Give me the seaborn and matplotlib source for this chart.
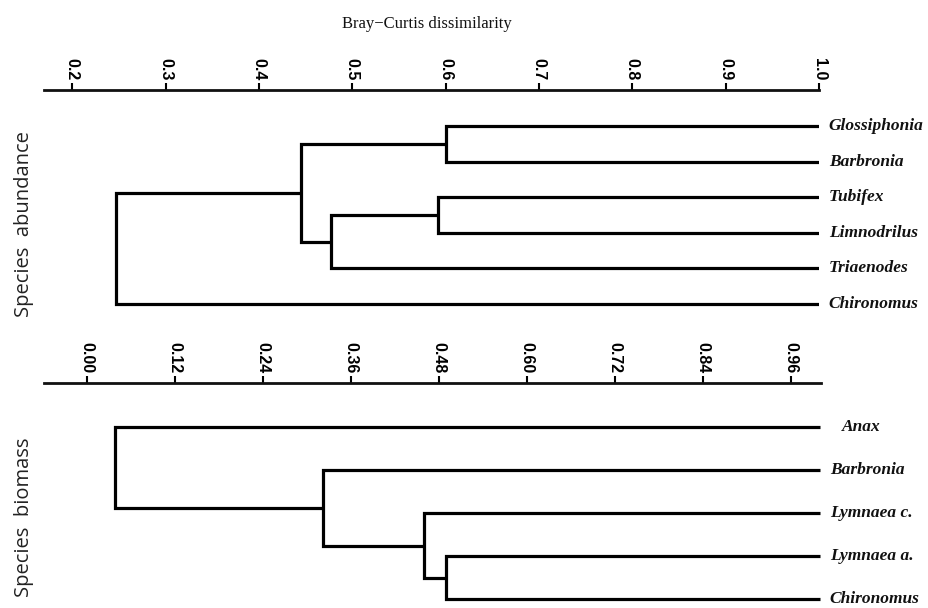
import numpy as np
import pandas as pd
import matplotlib
matplotlib.use("Agg")
import matplotlib.pyplot as plt
import seaborn as sns

# ---------------- data ----------------
title_text = "Bray\u2212Curtis dissimilarity"

abund_label = "Species  abundance"
abund_leaves = ["Glossiphonia", "Barbronia", "Tubifex", "Limnodrilus", "Triaenodes", "Chironomus"]
# merges: node ids 0..5 are leaves, merge k creates node 6+k
abund_left = [0, 2, 7, 6, 9]
abund_right = [1, 3, 4, 8, 5]
abund_height = [0.600, 0.592, 0.477, 0.445, 0.247]
abund_ticks = [0.2, 0.3, 0.4, 0.5, 0.6, 0.7, 0.8, 0.9, 1.0]
abund_ticklabels = ["0.2", "0.3", "0.4", "0.5", "0.6", "0.7", "0.8", "0.9", "1.0"]

bio_label = "Species  biomass"
bio_leaves = ["Anax", "Barbronia", "Lymnaea c.", "Lymnaea a.", "Chironomus"]
bio_left = [3, 2, 1, 0]
bio_right = [4, 5, 6, 7]
bio_height = [0.490, 0.460, 0.322, 0.039]
bio_ticks = [0.00, 0.12, 0.24, 0.36, 0.48, 0.60, 0.72, 0.84, 0.96]
bio_ticklabels = ["0.00", "0.12", "0.24", "0.36", "0.48", "0.60", "0.72", "0.84", "0.96"]

leaf_value = 1.0


def dendro_segments(leaves, left, right, height):
    n = len(leaves)
    xs = {i: leaf_value for i in range(n)}
    ys = {i: float(i) for i in range(n)}
    rows = []
    for k, (a, b, h) in enumerate(zip(left, right, height)):
        node = n + k
        pts = [(xs[a], ys[a]), (h, ys[a]), (h, ys[b]), (xs[b], ys[b])]
        for j, (px, py) in enumerate(pts):
            rows.append({"seg": k, "order": j, "x": px, "y": py})
        xs[node] = h
        ys[node] = (ys[a] + ys[b]) / 2.0
    return pd.DataFrame(rows)


sns.set_theme(style="white")
plt.rcParams["font.family"] = ["DejaVu Sans"]

fig = plt.figure(figsize=(9.29, 6.08), dpi=100)
W, H = 929, 608


def px_axes(left, top, right, bottom):
    return fig.add_axes([left / W, 1 - bottom / H, (right - left) / W, (bottom - top) / H])


ax1 = px_axes(44, 90, 819, 320)
ax2 = px_axes(44, 383, 820.7, 606)

panels = [
    (ax1, abund_leaves, abund_left, abund_right, abund_height, abund_ticks, abund_ticklabels,
     (0.1697, 1.0), (5.45, -1.011)),
    (ax2, bio_leaves, bio_left, bio_right, bio_height, bio_ticks, bio_ticklabels,
     (-0.0583, 1.001), (4.153, -1.021)),
]

for ax, leaves, left, right, height, ticks, tlabels, xlim, ylim in panels:
    df = dendro_segments(leaves, left, right, height)
    sns.lineplot(data=df, x="x", y="y", units="seg", estimator=None, sort=False,
                 color="black", linewidth=2.3, legend=False, ax=ax)
    for line in ax.get_lines():
        line.set_solid_joinstyle("miter")
        line.set_solid_capstyle("butt")
    ax.set_xlim(*xlim)
    ax.set_ylim(*ylim)
    ax.set_xlabel("")
    ax.set_ylabel("")
    ax.set_yticks([])
    ax.set_facecolor("none")
    for s in ["left", "right", "bottom"]:
        ax.spines[s].set_visible(False)
    ax.spines["top"].set_visible(True)
    ax.spines["top"].set_color("#111111")
    ax.spines["top"].set_linewidth(2.0)
    ax.xaxis.tick_top()
    ax.set_xticks(ticks)
    ax.set_xticklabels(tlabels, rotation=-90, fontsize=11.5, fontweight="bold",
                       family="Liberation Sans")
    ax.tick_params(axis="x", direction="out", length=5, width=1.5, pad=2, colors="black",
                   bottom=False, top=True)
    for i, name in enumerate(leaves):
        off = 16 if name == "Anax" else 7
        ax.annotate(name, xy=(leaf_value, i), xytext=(off, 0), textcoords="offset points",
                    ha="left", va="center", fontsize=12.5, fontstyle="italic",
                    fontweight="bold", family="Liberation Serif", color="#111111",
                    annotation_clip=False)

fig.text(427 / W, 1 - 24 / H, title_text, ha="center", va="center", fontsize=12,
         family="Liberation Serif", color="#111111")
fig.text(24 / W, 1 - 224.5 / H, abund_label, rotation=90, ha="center", va="center",
         fontsize=14.5, family="Open Sans", color="#222222")
fig.text(24 / W, 1 - 517.5 / H, bio_label, rotation=90, ha="center", va="center",
         fontsize=14.5, family="Open Sans", color="#222222")

fig.savefig("out.png", dpi=100)
